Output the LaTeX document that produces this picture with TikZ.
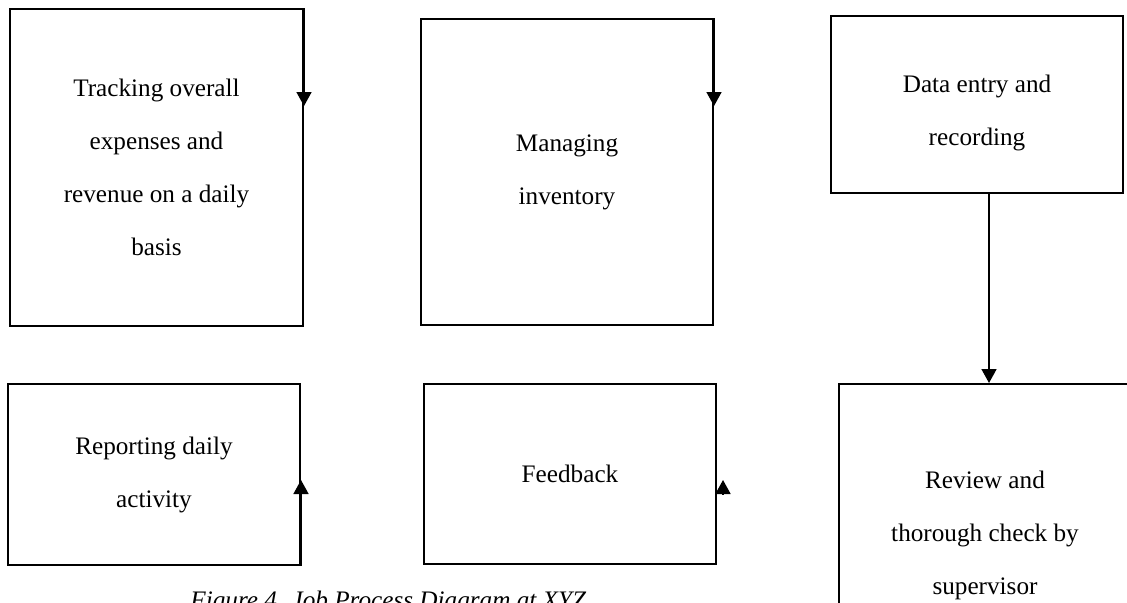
\documentclass[tikz,border=0pt]{standalone}
\usepackage{fontspec}
\setmainfont{Liberation Serif}
\usetikzlibrary{arrows.meta}

\begin{document}
\begin{tikzpicture}[>={Triangle[length=7pt,width=7.5pt]},x=0.5pt,y=0.5pt,
  box/.style={draw,line width=1pt,inner sep=0pt,align=flush center,text width=98pt,
    font=\fontsize{12.6}{26.5}\selectfont},
  flow/.style={line width=0.8pt,->}]
\useasboundingbox (0,0) rectangle (1127,602);
\clip (0,0) rectangle (1127,602);

% top row
\node[box,minimum width=146.5pt,minimum height=158.5pt] (track) at (156.5,434.5)
  {Tracking overall expenses and revenue on a daily basis};
\node[box,minimum width=146pt,minimum height=153pt] (inv) at (567,430)
  {Managing inventory};
\node[box,minimum width=146pt,minimum height=88.5pt] (entry) at (977,497.5)
  {\rule{0pt}{17.5pt}Data entry and recording};

% bottom row
\node[box,minimum width=146pt,minimum height=90.5pt] (report) at (154,127.5)
  {Reporting daily activity};
\node[box,minimum width=146pt,minimum height=90pt] (feed) at (570,128)
  {Feedback};
\node[box,minimum width=146pt,minimum height=151pt] (review) at (985,67)
  {Review and thorough check by supervisor};

% arrows
\draw[flow] ([xshift=6pt]entry.south) -- ([xshift=6pt]entry.south |- review.north);
\draw[flow] (track.north east) -- ([yshift=-49pt]track.north east);
\draw[flow] (inv.north east) -- ([yshift=-44pt]inv.north east);
\draw[flow] (report.south east) -- ([yshift=43pt]report.south east);
\draw[flow] ([xshift=3pt,yshift=35.5pt]feed.south east) -- ([xshift=3pt,yshift=42.5pt]feed.south east);

\node[anchor=base west,inner sep=0pt,font=\fontsize{12.6}{15}\selectfont\itshape] (cap) at (190,-6)
  {Figure 4. Job Process Diagram at XYZ};

\end{tikzpicture}
\end{document}
